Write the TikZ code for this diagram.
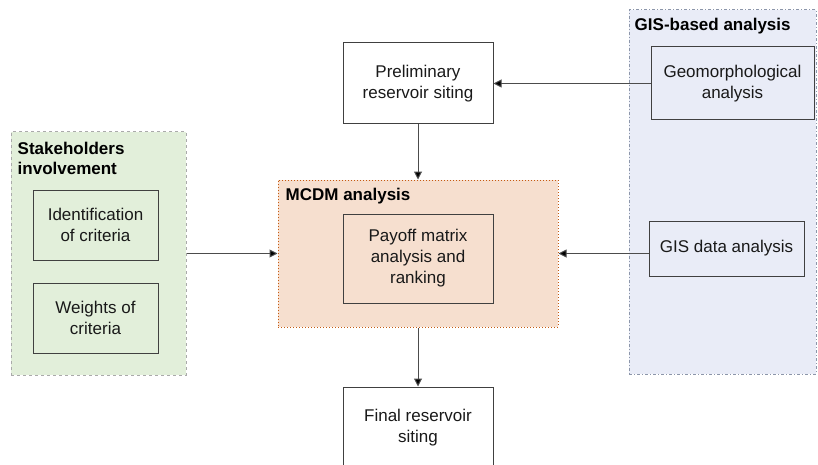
\documentclass[tikz,border=0pt]{standalone}
\usepackage{fontspec}
\setmainfont{Liberation Sans}
\usetikzlibrary{arrows.meta}

\definecolor{stkfill}{RGB}{226,239,218}
\definecolor{stkline}{RGB}{170,170,170}
\definecolor{mcdmfill}{RGB}{246,223,207}
\definecolor{mcdmline}{RGB}{197,90,17}
\definecolor{gisfill}{RGB}{233,236,247}
\definecolor{gisline}{RGB}{140,150,170}
\definecolor{boxline}{RGB}{64,64,64}

\tikzset{
  panel/.style={draw, line width=1pt, inner sep=0pt},
  box/.style={draw=boxline, line width=1pt, align=center, inner sep=0pt,
    text=black!90, font=\fontsize{17}{21}\selectfont},
  paneltitle/.style={anchor=north west, align=left, inner sep=0pt,
    font=\fontsize{17}{20}\selectfont\bfseries},
  arr/.style={-{Triangle[length=8pt,width=8pt,fill=black]}, line width=1pt, draw=black!70}
}

\begin{document}
\begin{tikzpicture}[x=1pt,y=-1pt]
\clip (0,0) rectangle (818,465);

% Draw panels
\node[panel, fill=stkfill, draw=stkline, dashed, minimum width=175pt, minimum height=243pt] (stake) at (98.5,253.5) {};
\node[panel, fill=mcdmfill, draw=mcdmline, dotted, minimum width=280pt, minimum height=147pt] (mcdm) at (418,253.5) {};
\node[panel, fill=gisfill, draw=gisline, dash dot, minimum width=187pt, minimum height=364pt] (gis) at (722.5,192) {};

% Add panel titles
\node[paneltitle] (staketitle) at ([xshift=7pt,yshift=-10pt]stake.north west) {Stakeholders\\involvement};
\node[paneltitle] (mcdmtitle) at ([xshift=8pt,yshift=-8pt]mcdm.north west) {MCDM analysis};
\node[paneltitle] (gistitle) at ([xshift=6pt,yshift=-8pt]gis.north west) {GIS-based analysis};

% Draw boxes
\node[box, minimum width=150pt, minimum height=81pt] (prelim) at (418,83.5) {Preliminary\\reservoir siting};
\node[box, minimum width=150pt, minimum height=89pt] (payoff) at (418,258.5) {Payoff matrix\\analysis and\\ranking};
\node[box, minimum width=150pt, minimum height=81pt, fill=white] (final) at (418,427.5) {Final reservoir\\siting};
\node[box, minimum width=125pt, minimum height=70pt] (ident) at (95.5,225) {Identification\\of criteria};
\node[box, minimum width=125pt, minimum height=70pt] (weights) at (95.5,318) {Weights of\\criteria};
\node[box, minimum width=163pt, minimum height=73pt] (geo) at (732.5,83.5) {Geomorphological\\analysis};
\node[box, minimum width=155pt, minimum height=55pt] (gisdata) at (726.5,248.5) {GIS data analysis};

% Draw arrows
\draw[arr] (geo) -- (prelim);
\draw[arr] (prelim) -- (mcdm);
\draw[arr] (stake) -- (mcdm);
\draw[arr] (gisdata.west |- mcdm.east) -- (mcdm.east);
\draw[arr] (mcdm) -- (final);
\end{tikzpicture}
\end{document}
